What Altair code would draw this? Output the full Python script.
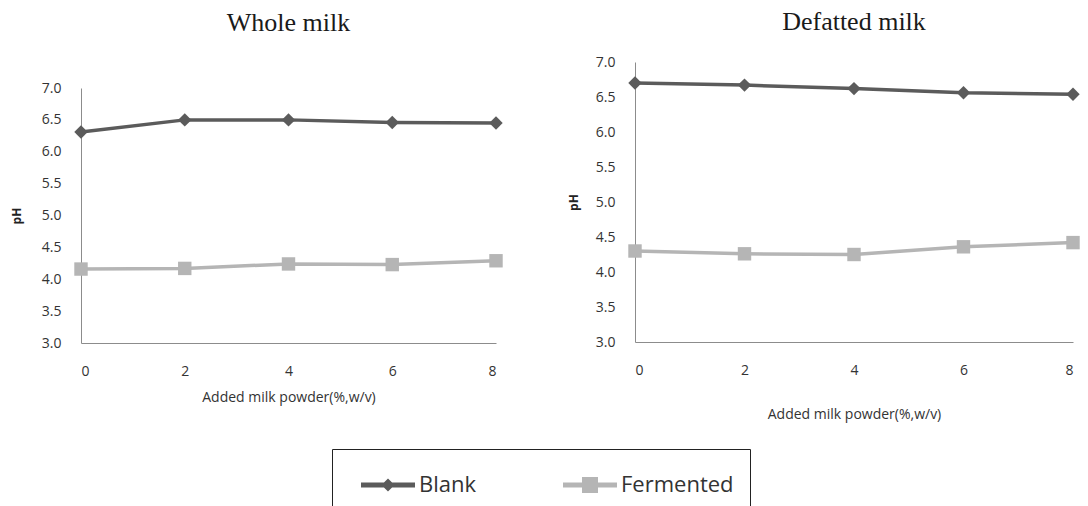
import altair as alt
import pandas as pd

# Added milk powder levels (%, w/v)
powder = [0, 2, 4, 6, 8]

# pH readings
whole_blank = [6.31, 6.50, 6.50, 6.46, 6.45]
whole_fermented = [4.16, 4.17, 4.24, 4.23, 4.29]
defatted_blank = [6.70, 6.67, 6.62, 6.56, 6.54]
defatted_fermented = [4.30, 4.26, 4.25, 4.36, 4.42]

series_names = ["Blank", "Fermented"]
series_colors = ["#5b5b5b", "#b5b5b5"]

LABEL_FONT = "Open Sans"
TITLE_FONT = "Liberation Serif"

# legend keys: a thick line segment with the series marker in the middle,
# drawn to the right of the symbol's layout box
blank_key = "M-0.35,-0.125H2.35V0.125H-0.35Z M1.0,-0.33L1.33,0L1.0,0.33L0.67,0Z"
ferm_key = "M-0.35,-0.125H2.35V0.125H-0.35Z M0.6,-0.4H1.4V0.4H0.6Z"


def frame(blank, fermented):
    rows = []
    for name, vals in zip(series_names, [blank, fermented]):
        for x, y in zip(powder, vals):
            rows.append({"powder": x, "pH": y, "series": name})
    return pd.DataFrame(rows)


def make_legend():
    return alt.Legend(
        orient="none",
        direction="horizontal",
        legendX=251,
        legendY=387,
        title=None,
        labelFont=LABEL_FONT,
        labelFontSize=22,
        labelColor="#333333",
        labelOffset=31,
        symbolSize=1600,
        symbolStrokeWidth=0,
        symbolFillColor="#5b5b5b",
        columnPadding=73,
        padding=16,
        strokeColor="#222222",
    )


color_scale = alt.Scale(domain=series_names, range=series_colors)


def panel(df, title, width, height, y_range, x_title_pad, y_title_pad, title_offset, with_key):
    x = alt.X(
        "powder:Q",
        scale=alt.Scale(domain=[0, 8], nice=False, zero=False),
        axis=alt.Axis(
            values=powder,
            title="Added milk powder(%,w/v)",
            titleFont=LABEL_FONT,
            titleFontSize=14,
            titleFontWeight="normal",
            titleColor="#333333",
            titlePadding=x_title_pad,
            labelFont=LABEL_FONT,
            labelFontSize=14,
            labelColor="#333333",
            labelPadding=21,
            ticks=False,
            grid=False,
            domainColor="#8c8c8c",
        ),
    )
    y = alt.Y(
        "pH:Q",
        scale=alt.Scale(domain=[3.0, 7.0], nice=False, zero=False, range=y_range),
        axis=alt.Axis(
            values=[3.0, 3.5, 4.0, 4.5, 5.0, 5.5, 6.0, 6.5, 7.0],
            format=".1f",
            title="pH",
            titleFont=LABEL_FONT,
            titleFontSize=12,
            titleFontWeight="bold",
            titleColor="#222222",
            titlePadding=y_title_pad,
            labelFont=LABEL_FONT,
            labelFontSize=14,
            labelColor="#333333",
            labelPadding=20,
            ticks=False,
            grid=False,
            domainColor="#8c8c8c",
        ),
    )
    color = alt.Color("series:N", scale=color_scale)
    base = alt.Chart(df)
    layers = []
    if with_key:
        # legend carrier: draws no marks, only supplies the series key
        key = (
            base.transform_filter("false")
            .mark_point(filled=True, opacity=1)
            .encode(
                x=x,
                y=y,
                color=alt.Color("series:N", scale=color_scale, legend=make_legend()),
                shape=alt.Shape(
                    "series:N",
                    scale=alt.Scale(domain=series_names, range=[blank_key, ferm_key]),
                    legend=make_legend(),
                ),
            )
        )
        layers.append(key)
    line = base.mark_line(strokeWidth=3.5).encode(x=x, y=y, color=color, detail="series:N")
    diamonds = (
        base.transform_filter(alt.datum.series == "Blank")
        .mark_point(filled=True, opacity=1, size=180, shape="diamond")
        .encode(x=x, y=y, color=color)
    )
    squares = (
        base.transform_filter(alt.datum.series == "Fermented")
        .mark_point(filled=True, opacity=1, size=180, shape="square")
        .encode(x=x, y=y, color=color)
    )
    layers += [line, diamonds, squares]
    return alt.layer(*layers).properties(
        width=width,
        height=height,
        title=alt.TitleParams(
            title,
            font=TITLE_FONT,
            fontSize=26,
            fontWeight="normal",
            color="#1a1a1a",
            anchor="middle",
            offset=title_offset,
        ),
    )


left = panel(frame(whole_blank, whole_fermented), "Whole milk", 415, 281, [281, 26], 12, 18, 26, True)
right = panel(frame(defatted_blank, defatted_fermented), "Defatted milk", 438, 280, [280, 0], 30, 15, 20, False)

chart = (
    alt.hconcat(left, right, spacing=64)
    .properties(padding={"left": 10, "top": 9, "right": 0, "bottom": 0}, background="white")
    .configure_view(strokeWidth=0)
)

chart.save("out.html", embed_options={"renderer": "svg", "actions": False})
